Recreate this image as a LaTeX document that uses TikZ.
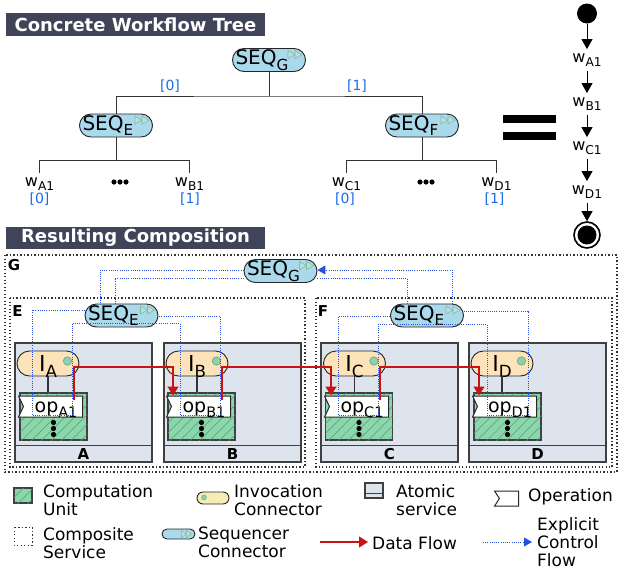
\documentclass[tikz,border=0pt]{standalone}
\usepackage{fontspec}
\setmainfont{DejaVu Sans}
\usetikzlibrary{arrows.meta,patterns.meta,shapes.symbols,positioning}

\definecolor{headbg}{RGB}{64,68,89}
\definecolor{seqfill}{RGB}{170,217,236}
\definecolor{markline}{RGB}{130,185,165}
\definecolor{markfill}{RGB}{185,225,220}
\definecolor{invfill}{RGB}{253,227,186}
\definecolor{legyellow}{RGB}{245,236,182}
\definecolor{invdot}{RGB}{150,205,175}
\definecolor{invdotline}{RGB}{100,175,135}
\definecolor{atomfill}{RGB}{222,228,237}
\definecolor{cufill}{RGB}{140,214,172}
\definecolor{cuhatch}{RGB}{85,155,115}
\definecolor{ctrlblue}{RGB}{40,80,220}
\definecolor{datared}{RGB}{200,20,20}
\definecolor{idxblue}{RGB}{25,110,230}

\newcommand{\fpx}[2]{\fontsize{#1}{#2}\selectfont}
% lowered index, as the diagram prints it
\newcommand{\lowidx}[1]{\raisebox{-0.27em}{\scalebox{0.76}{#1}}}
% two small play marks in the upper right of a sequencer
\newcommand{\seqmark}[1]{%
  \begin{scope}[shift={(#1.north east)}]
    \draw[markline,fill=markfill,line width=0.6] (-18,2.5) -- (-11,6.5) -- (-18,10.5) -- cycle (-11,2.5) -- (-4,6.5) -- (-11,10.5) -- cycle;
  \end{scope}}
% small ring in the upper right of an invocation connector
\newcommand{\invmark}[1]{%
  \begin{scope}[shift={(#1.east)}]
    \draw[invdotline,fill=invdot,line width=0.7] (-12,-2.5) circle (4.2);
  \end{scope}}

\tikzset{
  every node/.style={inner sep=0},
  headbox/.style={fill=headbg,text=white,font=\fpx{18}{18}\bfseries,minimum width=259,minimum height=23},
  seqnode/.style={draw=black!85,line width=0.9,fill=seqfill,rounded corners=11.5,minimum height=23,text width=67,inner xsep=3,align=left,font=\fpx{20}{20}},
  treeline/.style={black!80,line width=0.9},
  idx/.style={text=idxblue,font=\fpx{14}{14}},
  leaf/.style={font=\fpx{16}{16},inner ysep=4,anchor=base},
  chainw/.style={font=\fpx{16}{16},inner ysep=4,anchor=base},
  seqarrow/.style={black,line width=0.9,-{Triangle[length=10pt,width=11pt]}},
  compbox/.style={draw=black!80,line width=1.3,dash pattern=on 1.3pt off 2.2pt},
  boxlbl/.style={font=\fpx{15}{15}\bfseries},
  atomic/.style={draw=black!75,line width=1.1,fill=atomfill,minimum width=137,minimum height=119},
  invnode/.style={draw=black!85,line width=0.9,fill=invfill,rounded corners=12.5,minimum width=62,minimum height=25,text depth=0,font=\fpx{22}{22}},
  cunode/.style={draw=black!75,line width=1.1,fill=cufill,minimum width=67,minimum height=47,
    postaction={pattern={Lines[angle=45,distance=7pt,line width=0.5pt]},pattern color=cuhatch}},
  opnode/.style={signal,signal from=west,signal to=nowhere,signal pointer angle=130,draw=black!85,line width=1,fill=white,minimum width=64,minimum height=21,text height=13,text depth=2,font=\fpx{19}{19}},
  linkline/.style={black!80,line width=1.1},
  dataflow/.style={datared,line width=1.3,-{Triangle[length=9pt,width=11pt]}},
  ctrlflow/.style={ctrlblue,line width=0.8,dash pattern=on 0.8pt off 1.4pt},
  legtext/.style={font=\fpx{17}{18},align=left,anchor=west},
}

\begin{document}
\begin{tikzpicture}[x=1pt,y=-1pt]
\useasboundingbox (0,0) rectangle (622,571);

% concrete workflow tree
\node[headbox] (h1) at (135.5,24.5) {Concrete Workflow Tree};
\node[seqnode] (tG) at (269,60) {SEQ\lowidx{G}};
\node[seqnode] (tE) at (116,125.5) {SEQ\lowidx{E}};
\node[seqnode] (tF) at (422,125.5) {SEQ\lowidx{F}};
\seqmark{tG}
\seqmark{tE}
\seqmark{tF}
\node[idx] (i0) at (170,86.5) {[0]};
\node[idx] (i1) at (357,86.5) {[1]};
\draw[treeline] (tG.south) -- (tG.south |- 0,96);
\draw[treeline] (tE.north) |- (tG.south |- 0,96) -| (tF.north);

\node[leaf] (wA1) at (39.5,186) {w\lowidx{A1}};
\node[leaf] (wB1) at (189.5,186) {w\lowidx{B1}};
\node[leaf] (wC1) at (346.5,186) {w\lowidx{C1}};
\node[leaf] (wD1) at (496.5,186) {w\lowidx{D1}};
\node[idx] (iA1) at (39.5,199.5) {[0]};
\node[idx] (iB1) at (190,199.5) {[1]};
\node[idx] (iC1) at (345,199.5) {[0]};
\node[idx] (iD1) at (494.5,199.5) {[1]};
\draw[treeline] (tE.south) -- (tE.south |- 0,160.5);
\draw[treeline] (wA1.north) |- (tE.south |- 0,160.5) -| (wB1.north);
\draw[treeline] (tF.south) -- (tF.south |- 0,160.5);
\draw[treeline] (wC1.north) |- (tF.south |- 0,160.5) -| (wD1.north);
\foreach \cx in {120,426}
  \foreach \dx in {-6,0,6}
    \fill ({\cx+\dx},182) circle (2.6);

% equals sign
\fill (503,115) rectangle (556,122.5);
\fill (503,132) rectangle (556,139.5);

% flat sequence
\node[circle,fill=black,minimum size=20] (st) at (587,13.5) {};
\node[chainw] (cA) at (587,62) {w\lowidx{A1}};
\node[chainw] (cB) at (587,106) {w\lowidx{B1}};
\node[chainw] (cC) at (587,150) {w\lowidx{C1}};
\node[chainw] (cD) at (587,194) {w\lowidx{D1}};
\node[circle,draw=black,line width=1.6,fill=white,minimum size=26] (en) at (587,235) {};
\fill (en.center) circle (9.5);
\draw[seqarrow] (st) -- (cA);
\draw[seqarrow] (cA) -- (cB);
\draw[seqarrow] (cB) -- (cC);
\draw[seqarrow] (cC) -- (cD);
\draw[seqarrow] (cD) -- (en);

% resulting composition
\node[headbox,minimum height=22] (h2) at (135.5,238) {Resulting Composition};
\draw[compbox] (5,255) rectangle (617,472);
\draw[compbox] (10,298) rectangle (305,467);
\draw[compbox] (316,298) rectangle (612,467);
\node[boxlbl] (lG) at (14,265) {G};
\node[boxlbl] (lE) at (17.5,311) {E};
\node[boxlbl] (lF) at (323,311) {F};

\node[atomic] (A) at (83.5,402.5) {};
\node[atomic] (B) at (232.5,402.5) {};
\node[atomic] (C) at (389.5,402.5) {};
\node[atomic] (D) at (537.5,402.5) {};
\foreach \n in {A,B,C,D} {
  \draw[black!75,line width=1.1] ([yshift=17pt]\n.south west) -- ([yshift=17pt]\n.south east);
  \node[boxlbl] (l\n) at ([yshift=8.5pt]\n.south) {\n};
}

\node[invnode] (IA) at (48,363.5) {I\lowidx{A}};
\node[invnode] (IB) at (197,363.5) {I\lowidx{B}};
\node[invnode] (IC) at (354.5,363.5) {I\lowidx{C}};
\node[invnode] (ID) at (502,363.5) {I\lowidx{D}};
\node[cunode] (cuA) at (53.5,416.5) {};
\node[cunode] (cuB) at (201.5,416.5) {};
\node[cunode] (cuC) at (359,416.5) {};
\node[cunode] (cuD) at (507.5,416.5) {};
\node[opnode] (opA) at (53,406.5) {\hspace*{6pt}op\lowidx{A1}};
\node[opnode] (opB) at (201,406.5) {\hspace*{6pt}op\lowidx{B1}};
\node[opnode] (opC) at (359,406.5) {\hspace*{6pt}op\lowidx{C1}};
\node[opnode] (opD) at (507,406.5) {\hspace*{6pt}op\lowidx{D1}};
\foreach \n in {A,B,C,D} {
  \invmark{I\n}
  \draw[linkline] (I\n.south) -- (I\n.south |- cu\n.north);
  \foreach \dy in {6,12,18}
    \fill ([yshift=-\dy pt]cu\n.center) circle (2.6);
}

\node[seqnode] (sG) at (280.5,271) {SEQ\lowidx{G}};
\node[seqnode] (sE) at (121.5,315.5) {SEQ\lowidx{E}};
\node[seqnode] (sF) at (427,315.5) {SEQ\lowidx{E}};
\seqmark{sG}
\seqmark{sE}
\seqmark{sF}

% explicit control flow
\draw[ctrlflow] (sG.west |- 0,270) -| (sE.north -| 100,0);
\draw[ctrlflow] (sG.west |- 0,278) -| (sE.north -| 115,0);
\draw[ctrlflow,-{Triangle[length=8pt,width=9pt]}] (sF.north -| 452,0) |- (sG.east |- 0,270);
\draw[ctrlflow] (sG.east |- 0,278) -| (sF.north -| 407,0);
\draw[ctrlflow] (sE.west |- 0,310) -| (32,415) -| (72,323) -| (180,415) -| (220,316) -- (sE.east |- 0,316);
\draw[ctrlflow] (sF.west |- 0,316) -| (338,415) -| (378,324) -| (487,415) -| (528,311) -- (sF.east |- 0,311);

% data flow
\coordinate (dl) at (0,367);
\foreach \s/\t in {A/B,B/C,C/D} {
  \coordinate (ds\s) at ([xshift=21pt,yshift=6.5pt]op\s.center);
  \coordinate (dt\t) at ([xshift=-28pt]op\t.north);
  \draw[dataflow] (ds\s) |- (dt\t |- dl) -- (dt\t);
}

% legend
\node[cunode,minimum width=18,minimum height=15] (lgCU) at (23,495.5) {};
\node[legtext] (tCU) at (43,500) {Computation\\Unit};
\node[invnode,fill=legyellow,rounded corners=6,minimum width=32,minimum height=12] (lgInv) at (213,498) {};
\draw[invdotline,fill=invdot,line width=0.6] (204,497.5) circle (2.4);
\node[legtext] (tInv) at (234,500) {Invocation\\Connector};
\node[atomic,minimum width=18,minimum height=15] (lgAt) at (374,490.5) {};
\draw[black!75,line width=1.1] ([yshift=5pt]lgAt.south west) -- ([yshift=5pt]lgAt.south east);
\node[legtext] (tAt) at (396,500) {Atomic\\service};
\node[opnode,minimum width=24,minimum height=13,signal pointer angle=115] (lgOp) at (509,498.5) {};
\node[legtext] (tOp) at (528,497) {Operation};

\draw[compbox,line width=0.9] (14,527) rectangle (32,545);
\node[legtext] (tCS) at (43,543) {Composite\\Service};
\node[draw=black!85,line width=0.9,fill=seqfill,rounded corners=5,minimum width=33,minimum height=10] (lgSeq) at (178.5,534) {};
\begin{scope}[shift={(lgSeq.east)}]
  \draw[markline,fill=markfill,line width=0.5] (-14,-3.5) -- (-9,0) -- (-14,3.5) -- cycle (-9,-3.5) -- (-4,0) -- (-9,3.5) -- cycle;
\end{scope}
\node[legtext] (tSeq) at (198,542) {Sequencer\\Connector};
\coordinate (df0) at (320,542);
\coordinate (df1) at (368,542);
\draw[dataflow] (df0) -- (df1);
\node[legtext] (tDF) at (372,543) {Data Flow};
\coordinate (cf0) at (483,542);
\coordinate (cf1) at (532,542);
\draw[ctrlflow,-{Triangle[length=8pt,width=9pt]}] (cf0) -- (cf1);
\node[legtext] (tCF) at (537,542) {Explicit\\Control\\Flow};
\end{tikzpicture}
\end{document}
